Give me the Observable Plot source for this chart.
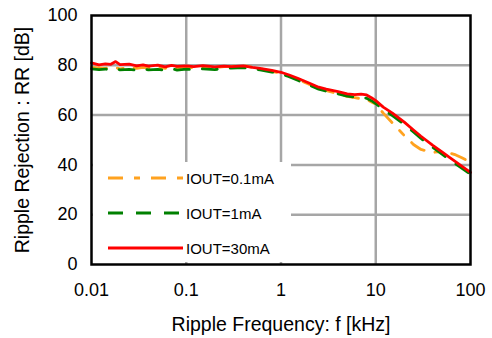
<!DOCTYPE html>
<html>
<head>
<meta charset="utf-8">
<script src="https://cdn.jsdelivr.net/npm/d3@7"></script>
<script src="https://cdn.jsdelivr.net/npm/@observablehq/plot@0.6"></script>
<style>
  html, body { margin: 0; padding: 0; background: #fff; }
  #wrap { position: relative; width: 492px; height: 338px; font-family: "Liberation Sans", Arial, sans-serif; }
  #legend { position: absolute; left: 93px; top: 162px; width: 198px; height: 100px; background: #fff; }
  #legend svg { display: block; }
</style>
</head>
<body>
<div id="wrap"><div id="legend"></div></div>
<script>
const freq = [0.01, 0.012, 0.014, 0.016, 0.018, 0.02, 0.025, 0.03, 0.035, 0.04, 0.05, 0.06, 0.07, 0.08, 0.1, 0.12, 0.15, 0.2, 0.25, 0.3, 0.4, 0.5, 0.6, 0.8, 1, 1.2, 1.5, 2, 2.5, 3, 4, 5, 6, 7, 8, 9, 10, 12, 15, 20, 25, 30, 40, 50, 60, 70, 80, 100];
const rr30mA = [81.0, 80.2, 80.6, 80.4, 81.5, 80.3, 80.5, 79.8, 80.2, 79.7, 80.1, 79.4, 80.0, 79.6, 79.8, 79.5, 79.9, 79.4, 79.7, 79.5, 79.8, 79.2, 78.8, 78.0, 77.2, 76.2, 74.8, 72.8, 71.2, 70.4, 69.4, 68.5, 68.2, 68.4, 68.1, 67.0, 65.8, 63.2, 60.8, 57.2, 54.0, 51.5, 47.8, 45.2, 43.0, 41.2, 39.6, 37.0];
const rr1mA  = [78.6, 78.3, 78.5, 78.1, 78.6, 78.2, 78.4, 78.0, 78.5, 78.2, 78.4, 78.0, 78.6, 78.1, 78.5, 78.2, 78.6, 78.3, 78.7, 78.9, 79.1, 78.6, 78.2, 77.3, 76.5, 75.5, 74.0, 72.0, 70.4, 69.6, 68.5, 67.6, 67.2, 67.0, 66.8, 65.8, 64.6, 62.2, 59.8, 56.3, 53.2, 50.6, 47.0, 44.3, 42.2, 40.3, 38.8, 36.2];
const rr01mA = [79.2, 79.0, 78.8, 79.2, 79.0, 78.6, 79.1, 78.8, 79.2, 78.9, 79.3, 78.8, 79.2, 79.0, 79.3, 79.0, 79.4, 79.1, 79.5, 79.6, 79.9, 79.2, 78.6, 77.6, 76.8, 75.8, 74.3, 72.3, 70.6, 69.8, 68.6, 67.5, 67.0, 66.6, 66.2, 65.3, 64.4, 60.8, 56.8, 51.8, 48.2, 46.2, 45.0, 45.4, 44.8, 44.0, 43.0, 41.0];
const series = ["IOUT=0.1mA", "IOUT=1mA", "IOUT=30mA"];
const colors = ["#FFA21F", "#008000", "#FF0000"];
const dashes = ["15,11,6,11", "15,13", null];
const xTicks = [0.01, 0.1, 1, 10, 100];
const xTickLabels = ["0.01", "0.1", "1", "10", "100"];
const yTicks = [0, 20, 40, 60, 80, 100];

const values = [rr01mA, rr1mA, rr30mA];
const data = series.map((s, i) => freq.map((f, j) => ({f, rr: values[i][j], s})));

const chart = Plot.plot({
  width: 492,
  height: 338,
  marginLeft: 91,
  marginRight: 22,
  marginTop: 15,
  marginBottom: 74,
  style: {fontFamily: '"Liberation Sans", Arial, sans-serif', fontSize: "18px", color: "#000", background: "#fff"},
  x: {type: "log", domain: [0.01, 100], ticks: xTicks, tickFormat: d => xTickLabels[xTicks.indexOf(d)], tickSize: 0, tickPadding: 19, label: "Ripple Frequency: f [kHz]", labelAnchor: "center", labelOffset: 66, labelArrow: "none"},
  y: {domain: [0, 100], ticks: yTicks, tickSize: 0, tickPadding: 14, label: "Ripple Rejection : RR [dB]", labelAnchor: "center", labelOffset: 76, labelArrow: "none"},
  marks: [
    Plot.gridX([0.1, 1, 10], {stroke: "#a6a6a6", strokeOpacity: 1, strokeWidth: 2.5}),
    Plot.gridY([20, 40, 60, 80], {stroke: "#a6a6a6", strokeOpacity: 1, strokeWidth: 2.5}),
    ...data.map((d, i) => Plot.line(d, {x: "f", y: "rr", stroke: colors[i], strokeWidth: 2.8, strokeDasharray: dashes[i] || undefined})),
    Plot.frame({stroke: "#000", strokeWidth: 2.5})
  ]
});
document.getElementById("wrap").prepend(chart);
d3.select(chart).selectAll("[aria-label$='axis label'] text").style("font-size", "19.5px");

// legend
const lg = d3.select("#legend").append("svg").attr("width", 198).attr("height", 100);
const rows = [16, 51, 86];
series.forEach((s, i) => {
  lg.append("line").attr("x1", 15).attr("x2", 90).attr("y1", rows[i]).attr("y2", rows[i])
    .attr("stroke", colors[i]).attr("stroke-width", 3).attr("stroke-dasharray", dashes[i]);
  lg.append("text").attr("x", 93).attr("y", rows[i] + 6).attr("font-size", 15).attr("fill", "#000")
    .attr("font-family", '"Liberation Sans", Arial, sans-serif').text(s);
});
</script>
</body>
</html>
